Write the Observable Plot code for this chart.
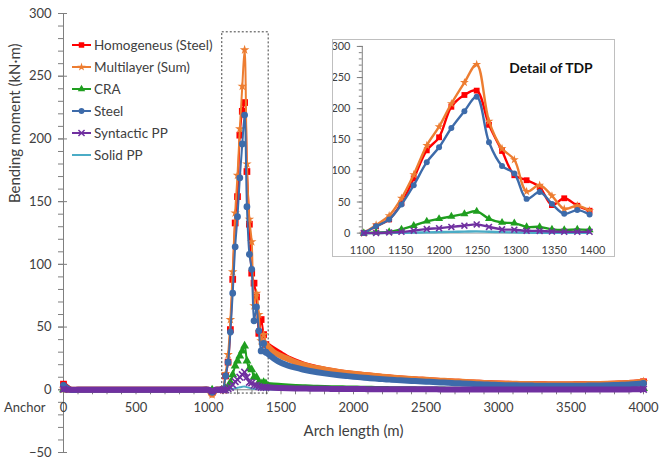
<!DOCTYPE html>
<html><head><meta charset="utf-8">
<script src="https://cdn.jsdelivr.net/npm/d3@7"></script>
<script src="https://cdn.jsdelivr.net/npm/@observablehq/plot@0.6"></script>
<style>
body{margin:0;background:#fff;}
#wrap{position:relative;width:660px;height:463px;font-family:Lato,sans-serif;overflow:hidden;}
#main{position:absolute;left:0;top:0;}
#inset{position:absolute;left:332px;top:39px;width:283px;height:218px;border:1px solid #bfbfbf;box-sizing:border-box;background:#fff;overflow:hidden;}
#inset svg{position:absolute;left:-1px;top:-1px;}
#legend{position:absolute;left:72px;top:34px;}
.row{height:22px;display:flex;align-items:center;font-size:13.5px;color:#404040;white-space:nowrap;}
.row svg{margin-right:3px;}
</style></head>
<body><div id="wrap"><div id="main"></div><div id="legend"></div><div id="inset"></div></div>
<script>
// ---------- data ----------
const seriesNames = ["Homogeneus (Steel)", "Multilayer (Sum)", "CRA", "Steel", "Syntactic PP", "Solid PP"];
const seriesColors = ["#FF0000", "#ED7D31", "#1F9E1F", "#3D6BAA", "#7030A0", "#4BACC6"];
const seriesSymbols = ["square", "star", "triangle", "circle", "times", null];

// arch length (m)
const xHead = [0,50,100,150,200,250,300,350,400,450,500,550,600,650,700,750,800,850,900,950,1000,1025,1050,1075];
const xPeak = [1102,1118,1135,1151,1167,1184,1200,1216,1233,1249,1265,1282,1298,1314,1331,1347,1363,1380,1396];
const xTail = [1450,1500,1550,1600,1650,1700,1750,1800,1850,1900,1950,2000,2050,2100,2150,2200,2250,2300,2350,2400,2450,2500,2550,2600,2650,2700,2750,2800,2850,2900,2950,3000,3050,3100,3150,3200,3250,3300,3350,3400,3450,3500,3550,3600,3650,3700,3750,3800,3850,3900,3950,4000];
// points of the dense head/tail where a marker stands out in the picture
const xMarked = [0, 1025, 4000];

// bending moment (kN·m)
const homogHead = [4.5,0,0,0,0,0,0,0,0,0,0,0,0,0,0,0,0,0,0,0,0,-2,0,0];
const multiHead = [0.5,0,0,0,0,0,0,0,0,0,0,0,0,0,0,0,0,0,0,0,0,-4,0,0];
const craHead   = [0,0,0,0,0,0,0,0,0,0,0,0,0,0,0,0,0,0,0,0,0,0,0,0];
const steelHead = [3.5,0,0,0,0,0,0,0,0,0,0,0,0,0,0,0,0,0,0,0,0,-2,0,0];
const syntHead  = [0.5,0,0,0,0,0,0,0,0,0,0,0,0,0,0,0,0,0,0,0,0,-1,0,0];
const solidHead = [0,0,0,0,0,0,0,0,0,0,0,0,0,0,0,0,0,0,0,0,0,0,0,0];

const homogPeak = [0,11,22,48,88,133,154,203,222,229,174,132,93,85,74,45,56,44,36];
const multiPeak = [0,13,28,56,94,141,171,208,242,271,180,136,118,67,77,60,39,44,36];
const craPeak   = [0,1,2,6,12,19,23,27,31,35,23,17,16,10,10,6,5,6,5];
const steelPeak = [0,11,22,46,77,114,138,169,196,219,146,108,96,55,66,47,31,37,30];
const syntPeak  = [0,0,1,2,4,6.5,8,10,12,14,10,6,5.5,3.7,3.5,2.5,2,2,2];
const solidPeak = [0,0,0.3,0.5,0.8,1.2,1.6,2,2.4,2.7,2.1,1.5,1.1,0.8,0.6,0.5,0.4,0.3,0.3];

const homogTail = [32,28.5,25,22.5,20.3,18.6,17.2,16,15,14.1,13.3,12.6,12,11.4,10.8,10.3,9.8,9.3,8.9,8.5,8.1,7.8,7.4,7.1,6.8,6.5,6.2,5.9,5.6,5.4,5.2,5,4.8,4.7,4.6,4.5,4.4,4.4,4.3,4.3,4.3,4.3,4.4,4.4,4.5,4.6,4.7,4.9,5.1,5.4,5.8,6.4];
const multiTail = [30,27,24.5,22,20,18.5,17.2,16.2,15.2,14.3,13.5,12.8,12.2,11.6,11,10.5,10,9.5,9.1,8.7,8.3,8,7.6,7.3,7,6.7,6.4,6.1,5.8,5.5,5.3,5.1,4.9,4.8,4.7,4.6,4.5,4.5,4.4,4.4,4.4,4.4,4.5,4.5,4.6,4.7,4.8,5,5.2,5.5,5.9,6.6];
const craTail   = [4.5,4,3.6,3.3,3,2.8,2.6,2.4,2.3,2.2,2.1,2,1.9,1.8,1.7,1.6,1.5,1.5,1.4,1.4,1.3,1.3,1.2,1.2,1.1,1.1,1,1,1,0.9,0.9,0.9,0.8,0.8,0.8,0.8,0.8,0.7,0.7,0.7,0.7,0.7,0.7,0.7,0.7,0.7,0.8,0.8,0.8,0.8,0.9,1];
const steelTail = [25,21.5,19.3,17.6,16.2,15,14,13.1,12.3,11.6,11,10.4,9.9,9.4,8.9,8.5,8.1,7.7,7.4,7.1,6.8,6.5,6.2,5.9,5.6,5.3,5.1,4.8,4.5,4.3,4.1,3.9,3.7,3.6,3.5,3.4,3.3,3.3,3.2,3.2,3.2,3.2,3.3,3.3,3.4,3.5,3.6,3.8,4,4.2,4.6,5.1];
const syntTail  = [1.6,1.4,1.2,1.1,1,0.9,0.8,0.8,0.7,0.7,0.6,0.6,0.6,0.5,0.5,0.5,0.5,0.4,0.4,0.4,0.4,0.4,0.4,0.3,0.3,0.3,0.3,0.3,0.3,0.3,0.3,0.3,0.3,0.3,0.3,0.3,0.3,0.3,0.3,0.3,0.3,0.3,0.3,0.3,0.3,0.3,0.3,0.3,0.3,0.3,0.4,0.4];
const solidTail = [0.3,0.3,0.3,0.2,0.2,0.2,0.2,0.2,0.2,0.2,0.2,0.2,0.2,0.2,0.2,0.2,0.2,0.2,0.2,0.2,0.2,0.2,0.2,0.2,0.2,0.2,0.2,0.2,0.2,0.2,0.2,0.2,0.2,0.2,0.2,0.2,0.2,0.2,0.2,0.2,0.2,0.2,0.2,0.2,0.2,0.2,0.2,0.2,0.2,0.2,0.2,0.2];

// axis ticks
const xMajor = [0,500,1000,1500,2000,2500,3000,3500,4000];
const xMinor = [0,100,200,300,400,500,600,700,800,900,1000,1100,1200,1300,1400,1500,1600,1700,1800,1900,2000,2100,2200,2300,2400,2500,2600,2700,2800,2900,3000,3100,3200,3300,3400,3500,3600,3700,3800,3900,4000];
const yMajor = [-50,0,50,100,150,200,250,300];
const yMinor = [-50,-40,-30,-20,-10,0,10,20,30,40,50,60,70,80,90,100,110,120,130,140,150,160,170,180,190,200,210,220,230,240,250,260,270,280,290,300];
const insetXTicks = [1100,1150,1200,1250,1300,1350,1400];
const insetYMajor = [0,50,100,150,200,250,300];
const insetYMinor = [0,10,20,30,40,50,60,70,80,90,100,110,120,130,140,150,160,170,180,190,200,210,220,230,240,250,260,270,280,290,300];
const tdpBox = [{x1: 1095, x2: 1415, y1: -3, y2: 285}];

// ---------- build table ----------
const xAll = xHead.concat(xPeak, xTail);
const cols = [
  homogHead.concat(homogPeak, homogTail),
  multiHead.concat(multiPeak, multiTail),
  craHead.concat(craPeak, craTail),
  steelHead.concat(steelPeak, steelTail),
  syntHead.concat(syntPeak, syntTail),
  solidHead.concat(solidPeak, solidTail)
];
const rows = [];
seriesNames.forEach((name, i) => xAll.forEach((x, j) => rows.push({series: name, i, x, y: cols[i][j]})));

const drawOrder = [0, 1, 2, 3, 5, 4];
const peakLo = xPeak[0], peakHi = xPeak[xPeak.length - 1];

function seriesMarks(data, opt) {
  const marks = [];
  for (const i of drawOrder) {
    const d = data.filter(r => r.i === i);
    const c = seriesColors[i];
    if (opt.band) {
      // dense simulation nodes outside the TDP zone read as a thick band
      marks.push(Plot.line(d.filter(r => r.x <= peakLo), {x: "x", y: "y", stroke: c, strokeWidth: opt.band[i], curve: "catmull-rom"}));
      marks.push(Plot.line(d.filter(r => r.x >= peakHi), {x: "x", y: "y", stroke: c, strokeWidth: opt.band[i], curve: "catmull-rom"}));
    }
    marks.push(Plot.line(d.filter(r => r.x >= peakLo && r.x <= peakHi), {x: "x", y: "y", stroke: c, strokeWidth: opt.lw, curve: "catmull-rom"}));
    const s = seriesSymbols[i];
    if (s) {
      const stroked = s === "times";
      const dm = d.filter(r => (r.x >= peakLo && r.x <= peakHi) || (opt.band && xMarked.includes(r.x)));
      marks.push(Plot.dot(dm, {x: "x", y: "y", symbol: () => s, r: opt.r[i],
        fill: stroked ? "none" : c, stroke: stroked ? c : "none", strokeWidth: stroked ? 1.6 : 0}));
    }
  }
  return marks;
}

const axisGray = "#7f7f7f";
const textCol = "#404040";

const main = Plot.plot({
  width: 660, height: 463,
  marginLeft: 63, marginRight: 17, marginTop: 13, marginBottom: 11,
  x: {domain: [0, 4000], axis: null},
  y: {domain: [-50, 300], axis: null},
  style: {fontFamily: "Lato, sans-serif", color: textCol, background: "transparent", overflow: "visible"},
  marks: [
    Plot.ruleY([0], {stroke: axisGray}),
    Plot.ruleX(xMinor, {x: d => d, y1: 0, y2: -4, stroke: axisGray}),
    Plot.ruleX([0], {stroke: axisGray}),
    Plot.axisY(yMajor, {tickSize: 9, dx: 4, tickPadding: 7, fontSize: 13, label: null, stroke: axisGray, fill: textCol}),
    Plot.axisY(yMinor, {tickSize: 5, tickFormat: () => "", label: null, stroke: axisGray}),
    Plot.text(xMajor, {x: d => d, y: 0, dy: 18, text: d => String(d), fontSize: 13, fill: textCol}),
    Plot.text(["Anchor"], {x: 0, y: 0, dx: -18, dy: 18, textAnchor: "end", fontSize: 13, fill: textCol}),
    Plot.text(["Arch length (m)"], {frameAnchor: "bottom", dy: -17, fontSize: 15, fill: textCol}),
    Plot.text(["Bending moment (kN·m)"], {frameAnchor: "left", dx: -48, dy: -30, rotate: -90, fontSize: 15, fill: textCol}),
    Plot.rect(tdpBox, {x1: "x1", x2: "x2", y1: "y1", y2: "y2", fill: "none", stroke: "#404040", strokeDasharray: "2,2", strokeWidth: 1}),
    ...seriesMarks(rows, {lw: 2, r: [3.8, 3.0, 3.3, 3.4, 3.1], band: [6, 6, 3.5, 6, 6, 2]})
  ]
});
document.getElementById("main").appendChild(main);

const insetRows = rows.filter(r => r.x >= 1100 && r.x <= 1400);
const inset = Plot.plot({
  width: 283, height: 218,
  marginLeft: 30, marginRight: 21, marginTop: 7, marginBottom: 23,
  x: {domain: [1100, 1400], axis: null},
  y: {domain: [0, 300], axis: null},
  style: {fontFamily: "Lato, sans-serif", color: textCol, background: "white", overflow: "visible"},
  marks: [
    Plot.ruleY([0], {stroke: "#a6a6a6"}),
    Plot.ruleX([1100], {stroke: axisGray}),
    Plot.axisY(insetYMajor, {tickSize: 6, dx: 1, tickPadding: 7, fontSize: 11, label: null, stroke: axisGray, fill: textCol}),
    Plot.axisY(insetYMinor, {tickSize: 3, tickFormat: () => "", label: null, stroke: axisGray}),
    Plot.axisX(insetXTicks, {tickSize: 0, tickPadding: 13, fontSize: 11, label: null, fill: textCol, tickFormat: d => String(d)}),
    Plot.text(["Detail of TDP"], {frameAnchor: "top-right", textAnchor: "end", dy: 17, fontWeight: "bold", fontSize: 14, fill: "#111"}),
    ...seriesMarks(insetRows, {lw: 2.4, r: [3.3, 2.8, 3, 3, 2.8]})
  ]
});
document.getElementById("inset").appendChild(inset);

// ---------- legend ----------
const legend = d3.select("#legend");
const symMap = {square: d3.symbolSquare, star: d3.symbolStar, triangle: d3.symbolTriangle, circle: d3.symbolCircle, times: d3.symbolTimes};
const symSize = {square: 30, star: 22, triangle: 24, circle: 26, times: 26};
seriesNames.forEach((name, i) => {
  const row = legend.append("div").attr("class", "row");
  const svg = row.append("svg").attr("width", 19).attr("height", 12);
  svg.append("line").attr("x1", 0).attr("x2", 19).attr("y1", 6).attr("y2", 6)
    .attr("stroke", seriesColors[i]).attr("stroke-width", 2);
  const s = seriesSymbols[i];
  if (s) {
    const p = svg.append("path").attr("transform", "translate(9.5,6)")
      .attr("d", d3.symbol(symMap[s], symSize[s])());
    if (s === "times") p.attr("fill", "none").attr("stroke", seriesColors[i]).attr("stroke-width", 1.5);
    else p.attr("fill", seriesColors[i]);
  }
  row.append("span").text(name);
});
</script>
</body></html>
